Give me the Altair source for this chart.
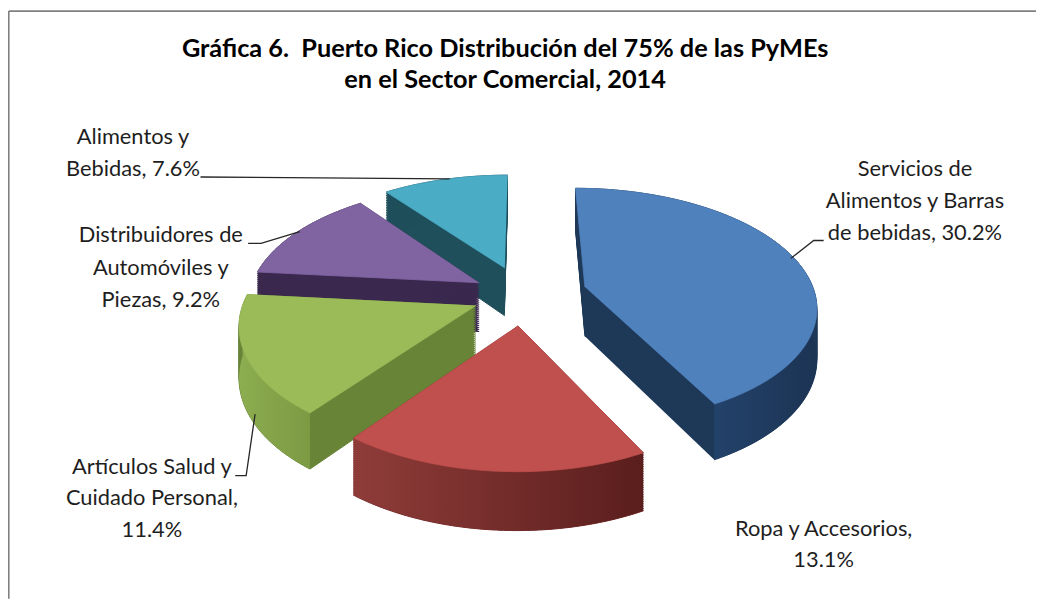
import altair as alt
import pandas as pd

# ---------------- data ----------------
categories = [
    "Servicios de Alimentos y Barras de bebidas",
    "Ropa y Accesorios",
    "Artículos Salud y Cuidado Personal",
    "Distribuidores de Automóviles y Piezas",
    "Alimentos y Bebidas",
]
values = [30.2, 13.1, 11.4, 9.2, 7.6]
title_lines = [
    "Gráfica 6.\u00a0 Puerto Rico Distribución del 75% de las PyMEs",
    "en el Sector Comercial, 2014",
]

# ---------------- style / layout ----------------
top_colors = ["#4f81bd", "#c0504d", "#9bbb59", "#8064a2", "#4bacc6"]
side_colors = ["#1e3858", "#6e2624", "#688437", "#3a284e", "#1e4f5b"]
rim_colors = ["#213e63", "#7a2b29", "#89a94c", "#4b3566", "#2a7589"]
rim_grad = {
    1: ("#8f3c39", "#5a1e1d"),
    2: ("#8dad50", "#7c9a43"),
    0: ("#23426a", "#1c3454"),
}
explode = [0.28, 0.25, 0.22, 0.22, 0.25]
draw_order = [4, 3, 0, 2, 1]          # back to front
CX, CY, RX, RY, P, DEPTH = 527, 295, 232, 120, 0.15, 50
N, L = 90, 25

label_words = [[2, 3, 3], [3, 1], [3, 2, 1], [2, 2, 2], [2, 2]]
label_pos = [(922, 175, 32), (830, 538, 31), (153, 475, 32), (162, 242, 32.5), (134, 143, 32)]
leaders = [
    [(830, 240), (820, 240), (797, 258)],
    [],
    [(237, 477), (248, 477), (257, 415)],
    [(250, 243), (263, 243), (302, 231)],
    [(202, 176), (453, 178)],
]
title_pos = [(509, 55), (509, 86)]
FONT = "Lato, Liberation Sans, sans-serif"

XS = alt.Scale(domain=[8, 1044], range=[0, 1036], nice=False, zero=False)
YS = alt.Scale(domain=[8, 601], range=[0, 593], nice=False, zero=False)

pie_df = pd.DataFrame({"cat": categories, "value": values, "idx": list(range(len(values)))})
EXPL = "[" + ",".join(str(e) for e in explode) + "]"

proj = dict(
    X="datum.ex*sin(datum.am) + datum.r*sin(datum.th)",
    Z="datum.ex*cos(datum.am) + datum.r*cos(datum.th)",
    f=f"1 - {P}*datum.Z",
    px=f"{CX} + {RX}*datum.X*datum.f",
    py=f"{CY} - {RY}*datum.Z*datum.f + {DEPTH}*datum.f*datum.lv",
)


def pie_base(i):
    return (
        alt.Chart(pie_df)
        .transform_window(cum="sum(value)", sort=[alt.SortField("idx", order="ascending")], frame=[None, 0])
        .transform_joinaggregate(total="sum(value)")
        .transform_calculate(
            a0="2*PI*(datum.cum-datum.value)/datum.total",
            a1="2*PI*datum.cum/datum.total",
        )
        .transform_calculate(am="(datum.a0+datum.a1)/2", ex=f"{EXPL}[datum.idx]")
        .transform_filter(f"datum.idx == {i}")
    )


def hgrad(c0, c1):
    return alt.LinearGradient(
        gradient="linear", x1=0, x2=1, y1=0, y2=0,
        stops=[alt.GradientStop(color=c0, offset=0), alt.GradientStop(color=c1, offset=1)],
    )


enc_xy = dict(
    x=alt.X("px:Q", scale=XS, axis=None),
    y=alt.Y("py:Q", scale=YS, axis=None),
)

layers = []

# border
border_df = pd.DataFrame({"bx": [8.8, 8.8], "by": [8.8, 8.8], "bx2": [8.8, 1044], "by2": [601, 8.8]})
layers.append(
    alt.Chart(border_df).mark_rule(color="#808080", strokeWidth=1.6).encode(
        x=alt.X("bx:Q", scale=XS, axis=None), y=alt.Y("by:Q", scale=YS, axis=None),
        x2="bx2:Q", y2="by2:Q")
)

for i in draw_order:
    side = (
        pie_base(i)
        .transform_calculate(ks=f"sequence(0, {N + 2})", ls=f"sequence(0, {L + 1})")
        .transform_flatten(["ks"], as_=["k"])
        .transform_flatten(["ls"], as_=["l"])
        .transform_calculate(
            th=f"datum.k == 0 ? datum.am : datum.a0 + (datum.k-1)/{N}*(datum.a1-datum.a0)",
            r="datum.k == 0 ? 0 : 1",
            lv=f"datum.l/{L}",
        )
        .transform_calculate(**proj)
        .mark_line(fill=side_colors[i], stroke=side_colors[i], strokeWidth=1, strokeJoin="round")
        .encode(order=alt.Order("k:Q"), detail=alt.Detail("l:Q"), **enc_xy)
    )
    rim_fill = hgrad(*rim_grad[i]) if i in rim_grad else rim_colors[i]
    rim = (
        pie_base(i)
        .transform_calculate(ta="max(datum.a0, PI/2)", tb="min(datum.a1, 3*PI/2)")
        .transform_filter("datum.ta < datum.tb")
        .transform_calculate(ks=f"sequence(0, {2 * N + 2})")
        .transform_flatten(["ks"], as_=["k"])
        .transform_calculate(
            th=f"datum.k <= {N} ? datum.ta + datum.k/{N}*(datum.tb-datum.ta) : datum.tb - (datum.k-{N}-1)/{N}*(datum.tb-datum.ta)",
            r="1",
            lv=f"datum.k <= {N} ? 0 : 1",
        )
        .transform_calculate(**proj)
        .mark_line(fill=rim_fill, strokeWidth=0)
        .encode(order=alt.Order("k:Q"), **enc_xy)
    )
    top = (
        pie_base(i)
        .transform_calculate(ks=f"sequence(0, {N + 2})")
        .transform_flatten(["ks"], as_=["k"])
        .transform_calculate(
            th=f"datum.k == 0 ? datum.am : datum.a0 + (datum.k-1)/{N}*(datum.a1-datum.a0)",
            r="datum.k == 0 ? 0 : 1",
            lv="0",
        )
        .transform_calculate(**proj)
        .mark_line(fill=top_colors[i], stroke=top_colors[i], strokeWidth=0.8, strokeJoin="round")
        .encode(order=alt.Order("k:Q"), **enc_xy)
    )
    layers += [side, rim, top]

# leader lines
lead_rows = []
for i, pts in enumerate(leaders):
    for s, (lx, ly) in enumerate(pts):
        lead_rows.append({"lid": i, "seq": s, "lx": lx, "ly": ly})
lead_df = pd.DataFrame(lead_rows)
layers.append(
    alt.Chart(lead_df).mark_line(color="#262626", strokeWidth=1.3).encode(
        x=alt.X("lx:Q", scale=XS, axis=None), y=alt.Y("ly:Q", scale=YS, axis=None),
        detail="lid:N", order="seq:Q")
)

# data labels
lab_rows = []
for i, (cat, val) in enumerate(zip(categories, values)):
    words = f"{cat}, {val:.1f}%".split()
    cx, y0, lh = label_pos[i]
    pos = 0
    for j, n in enumerate(label_words[i]):
        lab_rows.append({"line": " ".join(words[pos:pos + n]), "tx": cx, "ty": y0 + j * lh})
        pos += n
lab_df = pd.DataFrame(lab_rows)
layers.append(
    alt.Chart(lab_df).mark_text(align="center", baseline="alphabetic", font=FONT, fontSize=22, color="#1e1e1e").encode(
        x=alt.X("tx:Q", scale=XS, axis=None), y=alt.Y("ty:Q", scale=YS, axis=None), text="line:N")
)

# title
title_df = pd.DataFrame({"t": title_lines, "tx": [p[0] for p in title_pos], "ty": [p[1] for p in title_pos]})
layers.append(
    alt.Chart(title_df).mark_text(align="center", baseline="alphabetic", font=FONT, fontSize=25.5,
                                  fontWeight="bold", color="#000000").encode(
        x=alt.X("tx:Q", scale=XS, axis=None), y=alt.Y("ty:Q", scale=YS, axis=None), text="t:N")
)

chart = (
    alt.layer(*layers)
    .properties(width=1036, height=593, padding=0, autosize=alt.AutoSizeParams(type="none"),
                background="white")
    .configure_view(stroke=None)
)

chart.save("out.html", embed_options={"renderer": "svg", "actions": False})
